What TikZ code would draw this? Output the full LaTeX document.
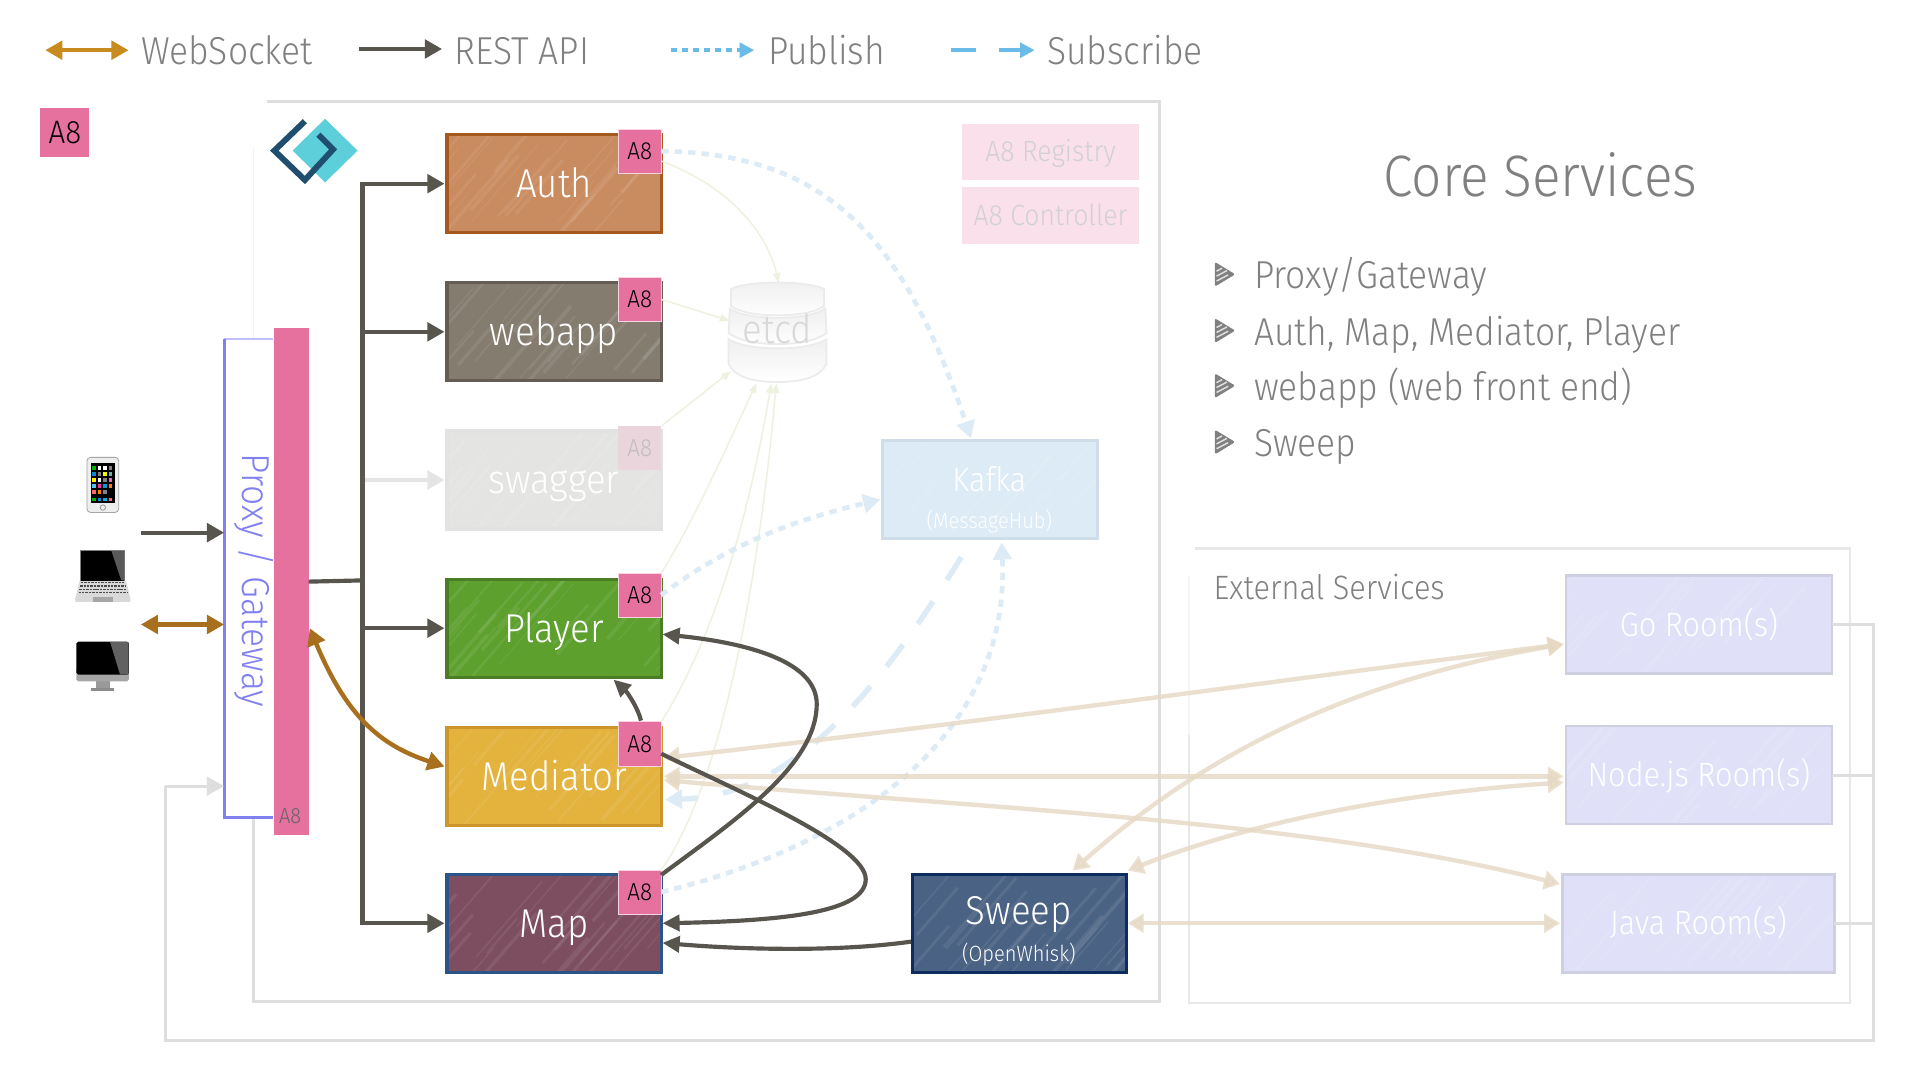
\documentclass[tikz,border=0pt]{standalone}
\usepackage{fontspec}
\setmainfont{Fira Sans Light}[FakeStretch=0.91]
\usetikzlibrary{arrows.meta,calc}
\definecolor{ink}{HTML}{58554F}
\definecolor{gold}{HTML}{C88C1E}
\definecolor{wsbrown}{HTML}{A8701E}
\definecolor{txtgray}{HTML}{808080}
\definecolor{pinkA}{HTML}{E6709E}
\definecolor{beige}{HTML}{E6D9C4}
\definecolor{pale}{HTML}{DCEBF5}
\definecolor{sky}{HTML}{6BBBE8}
\definecolor{leaf}{HTML}{EDF2DF}
\definecolor{frame}{HTML}{D8D8D8}
\definecolor{proxyc}{HTML}{8080F0}
\definecolor{roomline}{HTML}{CFCFE2}
\definecolor{roomfill}{HTML}{E0E0F8}
\definecolor{logocyan}{HTML}{5CCFDA}
\definecolor{logoblue}{HTML}{1F4E6E}
\definecolor{authF}{HTML}{C98B60}\definecolor{authD}{HTML}{A6591E}
\definecolor{webF}{HTML}{857C70}\definecolor{webD}{HTML}{655D54}
\definecolor{swgF}{HTML}{E4E4E2}\definecolor{swgD}{HTML}{E2E2E2}
\definecolor{plyF}{HTML}{5DA02E}\definecolor{plyD}{HTML}{4A7D25}
\definecolor{medF}{HTML}{E3B33E}\definecolor{medD}{HTML}{CE952A}
\definecolor{mapF}{HTML}{7C4E60}\definecolor{mapD}{HTML}{2B5488}
\definecolor{swpF}{HTML}{4A6283}\definecolor{swpD}{HTML}{0D2D5E}
\definecolor{kafF}{HTML}{DCEBF5}\definecolor{kafD}{HTML}{CFDDEB}
\newcommand{\fs}[1]{\pgfmathsetmacro\fsz{#1*1.06}\fontsize{\fsz}{\fsz}\selectfont}
\newcommand{\streaks}{%
  \foreach \i in {1,...,26}{%
    \pgfmathsetmacro\sa{rnd*210-30}%
    \pgfmathsetmacro\sb{rnd*60-10}%
    \pgfmathsetmacro\sw{0.6+rnd*2.6}%
    \pgfmathsetmacro\slen{20+rnd*35}%
    \draw[white,opacity=.08,line width=\sw pt]
      ($(path picture bounding box.south west)+(\sa pt,\sb pt)$) -- ++(\slen pt,1.15*\slen pt);}}
\tikzset{
  txt/.style={font=\fs{#1},text height=#1*0.73pt,text depth=0pt,inner sep=0pt},
  svc/.style 2 args={draw=#2,fill=#1,line width=2.6pt,minimum width=175pt,minimum height=80pt,
    outer sep=0pt,txt=31,text=white,path picture={\streaks}},
  room/.style={draw=roomline,fill=roomfill,line width=2.2pt,minimum height=80pt,outer sep=0pt,
    txt=26,text=white,path picture={\streaks}},
  tag/.style={fill=pinkA,draw=white!70!pinkA,line width=.6pt,minimum width=35pt,minimum height=36pt,
    outer sep=0pt,txt=19,text=black},
  legendtxt/.style={anchor=west,txt=30,text=txtgray},
  rest/.style={draw=ink,line width=3.4pt,-{Triangle[length=14pt,width=15pt]}},
  restcurve/.style={draw=ink,line width=3.4pt,-{Triangle[length=14pt,width=13pt]}},
  ws/.style={draw=wsbrown,line width=3.6pt,{Triangle[length=14pt,width=15pt]}-{Triangle[length=14pt,width=15pt]}},
  bg/.style={draw=beige,opacity=.8,line width=3.6pt,{Triangle[length=13pt,width=15pt]}-{Triangle[length=13pt,width=15pt]}},
  pub/.style={draw=pale,line width=3.8pt,dash pattern=on 6pt off 5pt,-{Triangle[length=14pt,width=15pt]}},
  etcdarrow/.style={draw=leaf,line width=1.2pt,-{Triangle[length=8pt,width=6pt]}},
  faint/.style={draw=frame!85,line width=2.6pt},
  segm/.style={draw=frame!50,line width=1.4pt,top color=frame!40,bottom color=white},
  dev/.style={inner sep=0pt,outer sep=0pt}
}
\begin{document}
\begin{tikzpicture}[x=1pt,y=-1pt]
\pgfmathsetseed{42}
\useasboundingbox (0,0) rectangle (1568,882);
\fill[white] (0,0) rectangle (1568,882);

% legend
\coordinate (wsA) at (37,41); \coordinate (wsB) at (105,41);
\coordinate (reA) at (293,40); \coordinate (reB) at (361,40);
\coordinate (puA) at (548,41); \coordinate (puB) at (616,41);
\coordinate (suA) at (777,41); \coordinate (suB) at (797,41);
\coordinate (suC) at (816,41); \coordinate (suD) at (845,41);
\draw[ws,draw=gold] (wsA) -- (wsB);
\draw[rest] (reA) -- (reB);
\draw[draw=sky,line width=3.4pt,dash pattern=on 5pt off 4pt,-{Triangle[length=12pt,width=12pt]}] (puA) -- (puB);
\draw[draw=sky,line width=3.4pt] (suA) -- (suB);
\draw[draw=sky,line width=3.4pt,-{Triangle[length=12pt,width=12pt]}] (suC) -- (suD);
\node[legendtxt] (lgws) at (115,42) {WebSocket};
\node[legendtxt] (lgre) at (371,42) {REST API};
\node[legendtxt] (lgpu) at (627,42) {Publish};
\node[legendtxt] (lgsu) at (855,42) {Subscribe};
\node[fill=pinkA,minimum width=40pt,minimum height=40pt,txt=25,text=black] (a8key) at (53,108) {A8};

% frames
\draw[faint] (218,83) -- (947,83) -- (947,818) -- (207,818) -- (207,668);
\draw[draw=frame!30,line width=1pt] (207,120) -- (207,277);
\draw[draw=frame!60,line width=2pt] (976,448) -- (1511,448) -- (1511,819) -- (971,819) -- (971,600);
\draw[draw=frame!25,line width=1pt] (971,600) -- (971,470);
\coordinate (retR) at (1530,850);
\coordinate (retL) at (135,850);
\coordinate (retU) at (135,642);

% logo
\fill[logocyan] (265.5,97) -- (292,123) -- (265.5,149) -- (239,123) -- cycle;
\draw[draw=logoblue,line width=4.8pt,line join=miter]
  (249,99) -- (224,123) -- (249,147) -- (272,122) -- (260,110);

% etcd
\node[minimum width=80pt,minimum height=81pt,inner sep=0pt] (etcd) at (635,271) {};
\draw[segm] (595,277) .. controls (610,287) and (660,287) .. (675,277) -- (675,297)
  .. controls (670,308) and (655,312) .. (635,312) .. controls (615,312) and (600,308) .. (595,297) -- cycle;
\draw[segm] (596,252) .. controls (610,262) and (660,262) .. (674,252) -- (675,272)
  .. controls (660,284) and (610,284) .. (595,272) -- cycle;
\draw[segm] (597,236) .. controls (610,229) and (660,229) .. (673,236) -- (673,250)
  .. controls (660,260) and (610,260) .. (597,250) -- cycle;
\node[text=frame,txt=31] (etcdt) at (635,269) {etcd};

% registry / controller
\node[fill=pinkA!22,minimum width=144pt,minimum height=46pt,text=black!18,txt=22.5] (reg) at (858,124) {A8 Registry};
\node[fill=pinkA!22,minimum width=144pt,minimum height=46pt,text=black!18,txt=22.5] (ctl) at (858,176) {A8 Controller};

% title & bullets
\node[text=txtgray,txt=45] (title) at (1258,144) {Core Services};
\foreach \yy/\lab in {225/{Proxy/Gateway},271/{Auth, Map, Mediator, Player},316/{webapp (web front end)},362/{Sweep}}{
  \draw[draw=txtgray,fill=txtgray,line width=1.8pt,line join=round]
    (993,\yy-9.5) -- (1007,\yy-1) -- (993,\yy+7.5) -- cycle;
  \draw[draw=white!75!txtgray,line width=1.2pt] (993.5,\yy-3.5) -- (998,\yy-6);
  \draw[draw=white!75!txtgray,line width=1.2pt] (993.5,\yy+0.5) -- (1002,\yy-4);
  \draw[draw=white!75!txtgray,line width=1.2pt] (993.5,\yy+4.5) -- (1003,\yy-0.5);
  \node[legendtxt] at (1024,\yy) {\lab};
}
\node[anchor=west,text=txtgray,txt=26] (exttitle) at (991,480) {External Services};

% nodes: services
\node[svc={authF}{authD}] (auth) at (452.5,150) {Auth};
\node[svc={webF}{webD}] (webapp) at (452.5,271) {webapp};
\node[svc={swgF}{swgD}] (swagger) at (452.5,392) {swagger};
\node[svc={plyF}{plyD}] (player) at (452.5,513) {Player};
\node[svc={medF}{medD}] (mediator) at (452.5,634) {Mediator};
\node[svc={mapF}{mapD}] (map) at (452.5,754) {Map};
\node[svc={swpF}{swpD}] (sweep) at (832.5,754) {};
\node[text=white,txt=31] (sweept) at (832,744) {Sweep};
\node[text=white,txt=17] (sweeps) at (832,779) {(OpenWhisk)};
\node[svc={kafF}{kafD}] (kafka) at (808.5,400) {};
\node[text=white,txt=26] (kafkat) at (808,392) {Kafka};
\node[text=white,txt=17] (kafkas) at (808,425) {(MessageHub)};

\node[tag] (tagauth) at (522.5,123.5) {A8};
\node[tag] (tagweb) at (522.5,244.5) {A8};
\node[tag,fill=pinkA!30!frame!60,draw=none,text=black!25] (tagswg) at (522.5,366) {A8};
\node[tag] (tagply) at (522.5,486) {A8};
\node[tag] (tagmed) at (522.5,607.5) {A8};
\node[tag] (tagmap) at (522.5,728.5) {A8};

% rooms
\node[room,minimum width=217pt] (go) at (1387.5,510) {Go Room(s)};
\node[room,minimum width=217pt] (nodejs) at (1387.5,633) {Node.js Room(s)};
\node[room,minimum width=222pt] (java) at (1387,754) {Java Room(s)};

% proxy
\node[minimum width=40pt,minimum height=391pt,inner sep=0pt,outer sep=0pt] (proxy) at (203,472.5) {};
\node[fill=pinkA,minimum width=28pt,minimum height=414pt,inner sep=0pt,outer sep=0pt] (bar) at (238,475) {};
\draw[draw=proxyc!50,line width=1.6pt] (proxy.north east) -- (proxy.north west);
\draw[draw=proxyc,line width=2.4pt] (proxy.north west) -- (proxy.south west) -- (proxy.south east);
\node[rotate=-90,text=proxyc,txt=30] (proxyt) at (209,474) {Proxy / Gateway};
\node[text=black!60,txt=17] (bara8) at (237,666) {A8};

% return lines
\draw[faint,line join=miter] (go.east) -| (retR) -- (retL) -- (retU);
\draw[faint] (nodejs.east) -- (nodejs.east -| retR);
\draw[faint] (java.east) -- (java.east -| retR);
\draw[faint,-{Triangle[length=14pt,width=15pt]}] (retU) -- (proxy.west |- retU);

% etcd links
\draw[etcdarrow] (tagauth.east) ++(0,8) .. controls (590,150) and (625,185) .. (636,231);
\draw[etcdarrow] (tagweb.east) -- (596,262);
\draw[etcdarrow] (tagswg.north east) -- (597,303);
\draw[etcdarrow] (tagply.north east) .. controls (570,420) and (600,350) .. (618,313);
\draw[etcdarrow] (tagmed.north east) .. controls (590,510) and (615,400) .. (630,313);
\draw[etcdarrow] (tagmap.north east) .. controls (590,640) and (620,470) .. (634,313);

% publish / subscribe
\draw[pub] (tagauth.east) .. controls (680,125) and (740,200) .. (793,358);
\draw[pub] (tagply.east) .. controls (600,440) and (660,422) .. (719,408);
\draw[pub] (tagmap.east) .. controls (700,690) and (825,600) .. (818,443);
\draw[draw=pale,line width=4.4pt,dash pattern=on 22pt off 21pt,-{Triangle[length=14pt,width=15pt]}]
  (785,455) .. controls (720,560) and (650,650) .. (543,653);

% beige
\draw[bg] (542,619) .. controls (800,590) and (1050,555) .. (1277,526);
\draw[bg] (542,634) -- (1277,634);
\draw[bg] (542,637) .. controls (800,660) and (1070,670) .. (1274,722);
\draw[bg] (876,711) .. controls (990,610) and (1110,555) .. (1277,526);
\draw[bg] (921,711) .. controls (1020,672) and (1140,648) .. (1277,639);
\draw[bg] (921,754) -- (1274,754);

% rest
\coordinate (trunk) at (296,474);
\draw[draw=ink,line width=3.4pt] (bar.east) -- (trunk);
\draw[draw=frame!70,line width=3.4pt,-{Triangle[length=14pt,width=15pt]}] (298,392) -- ([xshift=-2pt]swagger.west);
\draw[rest] (trunk) |- ([xshift=-2pt]auth.west);
\draw[rest] (trunk) |- ([xshift=-2pt]webapp.west);
\draw[rest] (trunk) |- ([xshift=-2pt]player.west);
\draw[rest] (trunk) |- ([xshift=-2pt]map.west);
\draw[restcurve] (tagmed.north) ++(1,-1) .. controls (521,578) and (512,565) .. (501,555);
\draw[restcurve] (tagmap.north east) ++(0,4) .. controls (600,670) and (667,625) .. (667,575)
  .. controls (667,540) and (610,525) .. (541,518);
\draw[restcurve] (tagmed.east) ++(0,8) .. controls (600,645) and (707,690) .. (707,718)
  .. controls (707,745) and (640,752) .. (541,754);
\draw[restcurve] (sweep.west) ++(-1,15) .. controls (680,778) and (600,775) .. (541,770);

% websocket
\draw[ws] (253,513) .. controls (285,590) and (315,610) .. (363,626);

% devices
\coordinate (cliA) at (115,435); \coordinate (cliB) at (115,510);
\draw[rest] (cliA) -- (proxy.west |- cliA);
\draw[ws] (cliB) -- (proxy.west |- cliB);

% phone
\node[dev] (phone) at (84,396) {};
\draw[draw=black!35,fill=black!7,line width=.7pt,rounded corners=3pt] (71,373.5) rectangle (97,418.5);
\fill[black] (74,378.5) rectangle (94,411);
\draw[draw=black!40,line width=.7pt] (84,414.5) circle (2.2pt);
\foreach \cc [count=\n from 0] in {green!70!black,white,white,gray,cyan!70!blue,gray,yellow,teal!60,yellow,white,gray,magenta!60,cyan!70,magenta!80,cyan!80!blue,orange,red!60,orange,gray,black}{
  \pgfmathtruncatemacro\cx{mod(\n,4)}
  \pgfmathtruncatemacro\cy{int(\n/4)}
  \fill[\cc] (75.3+\cx*4.5,380.5+\cy*5) rectangle ++(3,3);
}
\foreach \cc [count=\n from 0] in {green!70!black,cyan!70!blue,cyan,red!60}{
  \fill[\cc] (75.3+\n*4.5,406.5) rectangle ++(3,3);
}
% laptop
\node[dev] (laptop) at (84,470) {};
\draw[draw=black!50,fill=black,line width=.7pt] (66,449.5) rectangle (102,474.5);
\fill[black!65] (91,450) -- (101.6,450) -- (101.6,474) -- (99,474) -- cycle;
\fill[black!15] (65,474.5) -- (103,474.5) -- (106.5,489) -- (106.5,491.5) -- (61.5,491.5) -- (61.5,489) -- cycle;
\foreach \r in {0,1,2,3}{
  \draw[black!70,line width=.9pt,dash pattern=on 2pt off .8pt] (66-\r*.6,476+\r*2.6) -- (102+\r*.6,476+\r*2.6);
}
\fill[black!35] (76,487.5) rectangle (92,491.5);
% desktop
\node[dev] (desktop) at (84,545) {};
\fill[black!40] (78.5,556) rectangle (89.5,562);
\fill[black!45] (74.5,562) rectangle (93.5,564.5);
\fill[black!35,rounded corners=1.5pt] (62.4,545) rectangle (105.3,556.4);
\fill[black,rounded corners=1.5pt] (62.4,524) rectangle (105.3,551);
\fill[black!62] (90,524.5) -- (105,524.5) -- (105,550.8) -- (98,550.8) -- cycle;
\end{tikzpicture}
\end{document}
